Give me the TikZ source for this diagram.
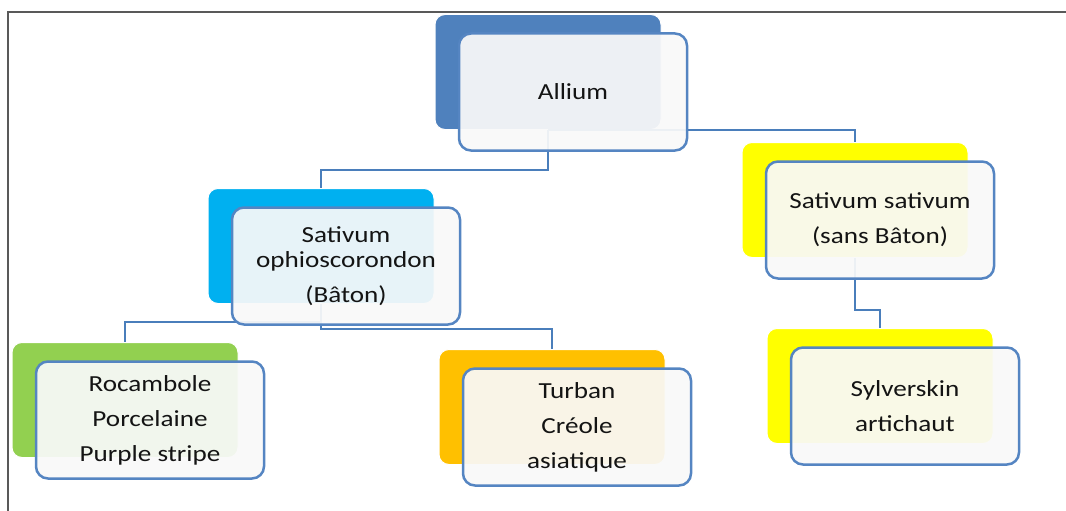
\documentclass[tikz,border=0pt]{standalone}
\usepackage{fontspec}
\setmainfont{Carlito}[FakeStretch=1.18]
\definecolor{allblue}{HTML}{4F81BD}
\definecolor{skyblue}{HTML}{00B0F0}
\definecolor{leafgreen}{HTML}{92D050}
\definecolor{amber}{HTML}{FFC000}
\definecolor{lemon}{HTML}{FFFF00}
\definecolor{edgeblue}{HTML}{5585C2}
\definecolor{linkblue}{HTML}{4A7EBB}
\definecolor{paper}{HTML}{F9F9F9}
\definecolor{ink}{HTML}{141414}

\def \backw {226pt}
\def \backh {115pt}
\def \frontw {228pt}
\def \fronth {117pt}

\tikzset{
  back/.style={rounded corners=10pt, minimum width=\backw, minimum height=\backh, draw=white, line width=1pt},
  front/.style={draw=edgeblue, line width=2.5pt, rounded corners=12pt, fill=paper, fill opacity=0.93, text opacity=1,
    minimum width=\frontw, minimum height=\fronth, align=center, text=ink,
    font=\fontsize{23}{35}\selectfont, xshift=25pt, yshift=-20pt},
  link/.style={draw=linkblue, line width=2.7pt}
}

\begin{document}
\begin{tikzpicture}[x=1pt,y=-1pt]
\useasboundingbox (0,0) rectangle (1066,511);
\draw[line width=1.5pt, black!65] (8,511) -- (8,12) -- (1066,12);

% colour blocks behind
\node[back, fill=allblue] (allb) at (548,72) {};
\node[back, fill=skyblue] (ophb) at (321,246) {};
\node[back, fill=lemon] (satb) at (855,200) {};
\node[back, fill=leafgreen] (rocb) at (125,400) {};
\node[back, fill=amber] (turb) at (552,407) {};
\node[back, fill=lemon] (sylb) at (880,386) {};

% links
\draw[link] (allb.south) -- ++(0,40) -| (ophb.north);
\draw[link] (allb.south) -| (satb.north);
\draw[link] (ophb.south) -- ++(0,18) -| (rocb.north);
\draw[link] (ophb.south) -- ++(0,25) -| (turb.north);
\draw[link] (satb.south) -- ++(0,52) -| (sylb.north);

% text boxes in front
\node[front] (allf) at (allb) {Allium};
\node[front] (ophf) at (ophb) {Sativum\\[-10pt]ophioscorondon\\(Bâton)};
\node[front] (satf) at (satb) {Sativum sativum\\(sans Bâton)};
\node[front] (rocf) at (rocb) {Rocambole\\Porcelaine\\Purple stripe};
\node[front] (turf) at (turb) {Turban\\Créole\\asiatique};
\node[front] (sylf) at (sylb) {Sylverskin\\artichaut};
\end{tikzpicture}
\end{document}
